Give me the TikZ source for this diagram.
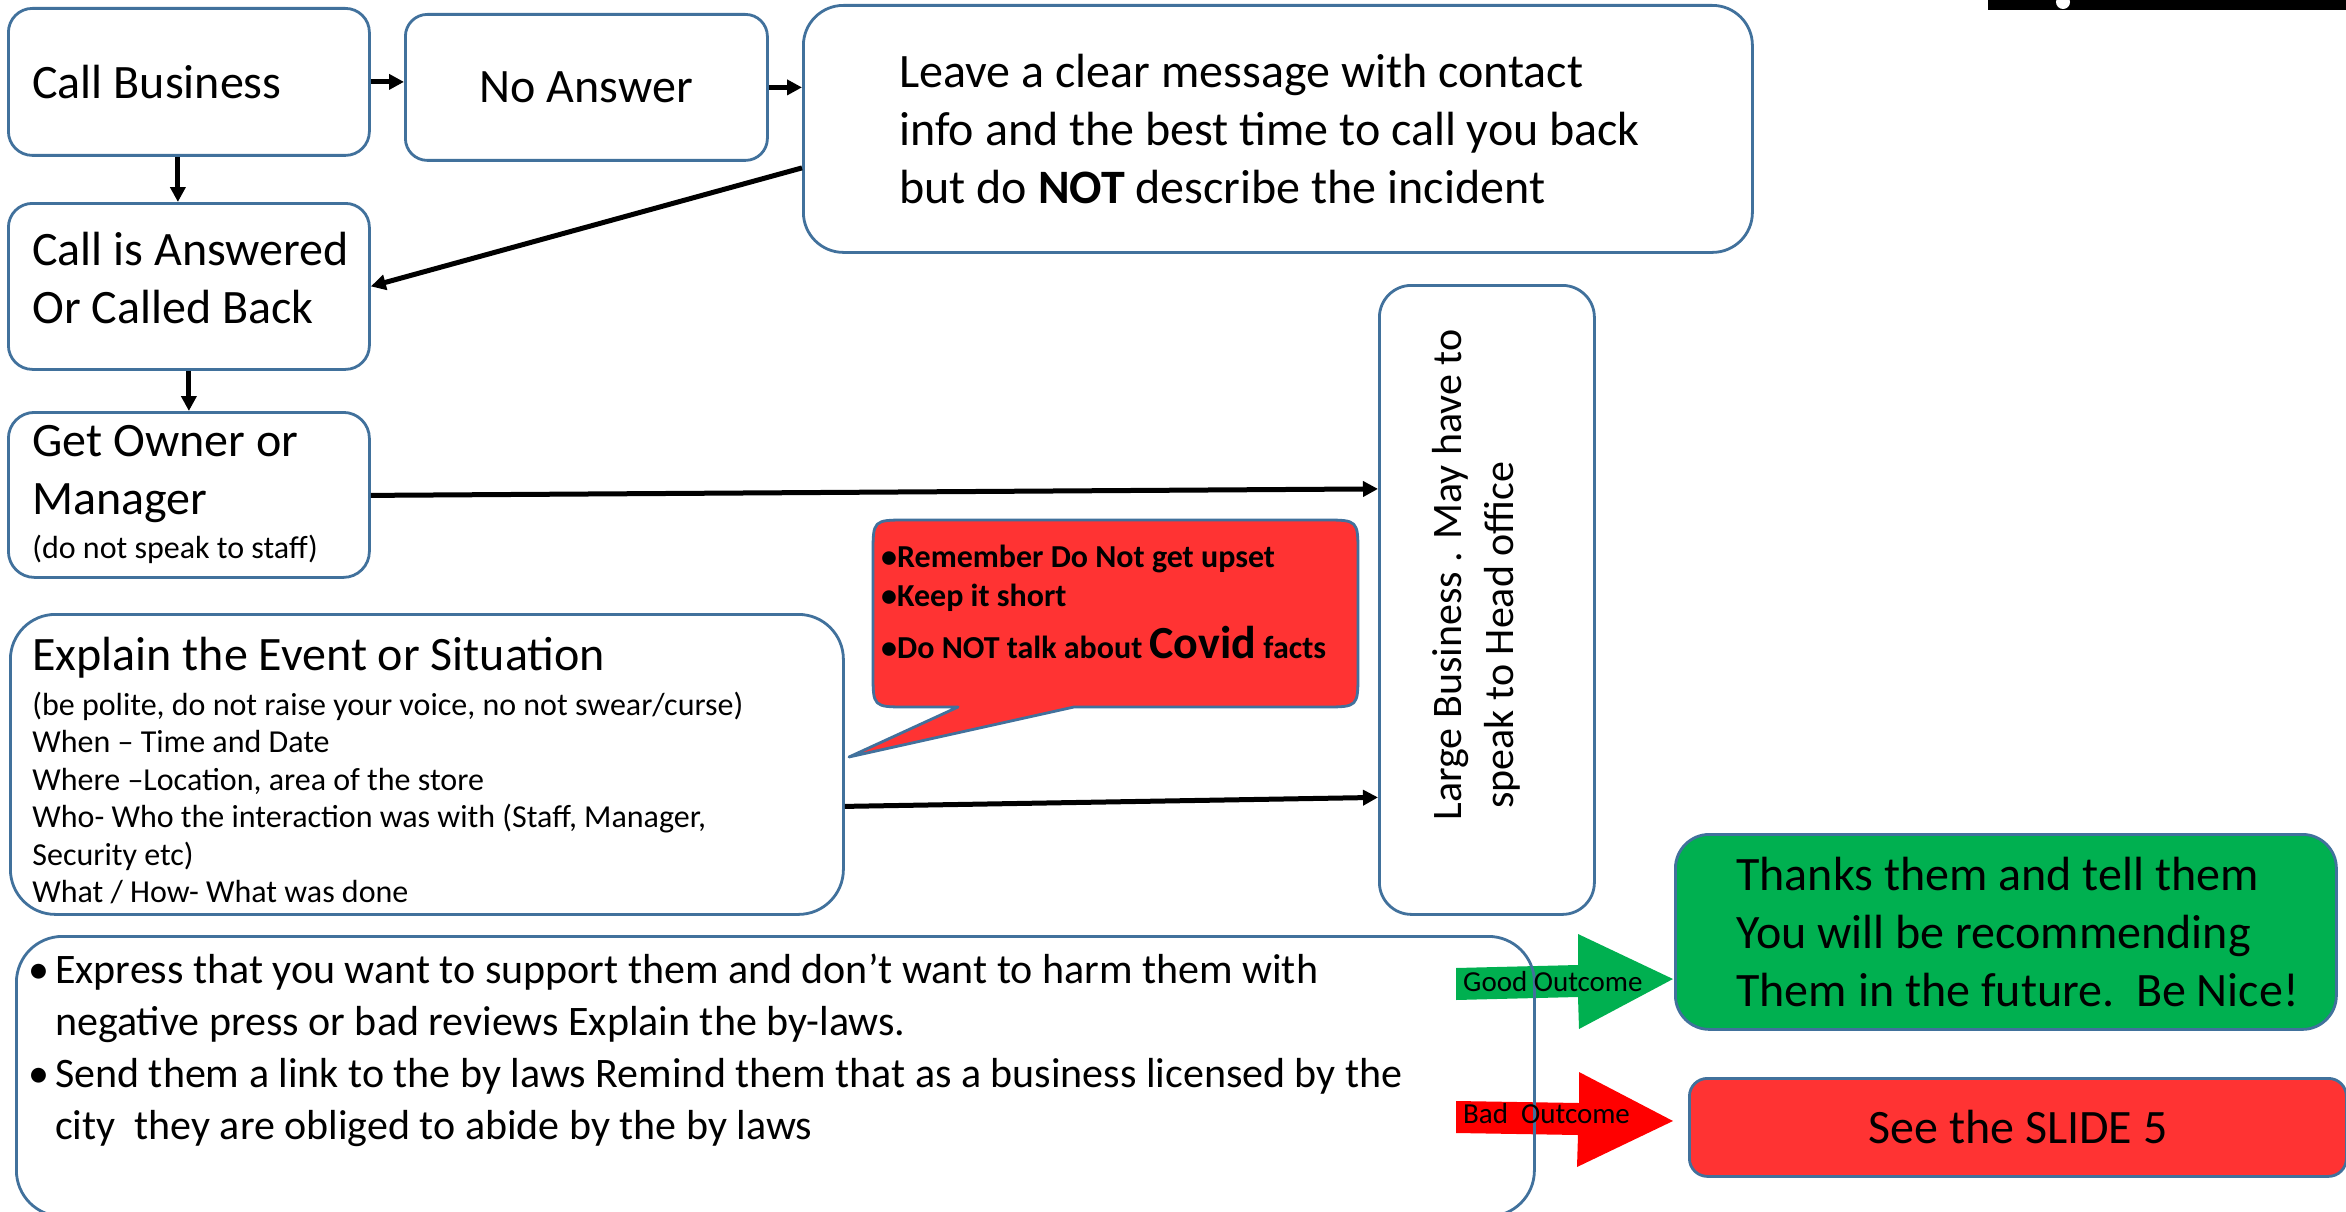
\documentclass[tikz,border=0pt]{standalone}
\usepackage{fontspec}
\usepackage{graphicx}
\setmainfont{Carlito}
\usetikzlibrary{arrows.meta,calc}

\definecolor{edgeblue}{RGB}{65,113,156}
\definecolor{alertred}{RGB}{255,51,51}
\definecolor{goodgreen}{RGB}{0,176,80}
\definecolor{badred}{RGB}{255,0,0}

\newcommand\sizeL{\fontsize{48}{58}\selectfont}
\newcommand\sizeM{\fontsize{42}{52}\selectfont}
\newcommand\sizeS{\fontsize{32}{37.5}\selectfont}
\newcommand\sizeT{\fontsize{32}{39}\selectfont}
\newcommand\sizeXS{\fontsize{29}{35}\selectfont}

\begin{document}
\begin{tikzpicture}[x=1pt,y=-1pt,
  box/.style={draw=edgeblue, line width=2.8pt, fill=white, anchor=north west, inner sep=0pt},
  flow/.style={line width=5pt, -{Triangle[length=15pt,width=15pt]}},
  lbl/.style={anchor=base west, inner sep=0pt, font=\sizeXS},
]
\useasboundingbox (0,0) rectangle (2346,1212);
\fill[white] (0,0) rectangle (2346,1212);
\begin{scope}
\clip (0,0) rectangle (2346,1212);

% header strip in the top right corner
\fill[black] (1988,0) rectangle (2346,10);
\fill[white] (2063,2) circle (7pt);

% outcome arrows
\fill[goodgreen] (1456,968) -- (1578,965) -- (1578,934) -- (1673,979) -- (1579,1029) -- (1578,997) -- (1456,1000) -- cycle;
\fill[badred] (1456,1101) -- (1579,1103) -- (1579,1072) -- (1673,1121) -- (1577,1167) -- (1578,1135) -- (1456,1133) -- cycle;

% flow boxes
\node[box, rounded corners=24pt, minimum width=361pt, minimum height=147pt,
      text width=313pt, align=flush left, font=\sizeL] (cb) at (7,7) {Call Business};
\node[box, rounded corners=22pt, minimum width=362pt, minimum height=146pt,
      align=flush center, font=\sizeL] (na) at (404,13) {No Answer};
\node[box, rounded corners=40pt, minimum width=949pt, minimum height=247pt,
      text width=757pt, align=flush left, font=\sizeL] (lv) at (802,4)
  {Leave a clear message with contact\\ info and the best time to call you back\\ but do \textbf{NOT} describe the incident};
\node[box, rounded corners=24pt, minimum width=361pt, minimum height=166pt,
      text width=313pt, align=flush left, font=\sizeL] (ca) at (7,202)
  {\mbox{Call is Answered}\\ Or Called Back\rule[-18pt]{0pt}{18pt}};
\node[box, rounded corners=26pt, minimum width=361pt, minimum height=165pt,
      text width=313pt, align=flush left, font=\sizeL] (go) at (7,411)
  {Get Owner or\\ Manager\\[-14pt] {\sizeS\mbox{(do not speak to staff)}}};
\node[box, rounded corners=45pt, minimum width=833pt, minimum height=300pt,
      text width=789pt, align=flush left, font=\sizeS] (ex) at (9,613)
  {{\sizeL\rule{0pt}{46pt}Explain the Event or Situation}\\[7.5pt]
   (be polite, do not raise your voice, no not swear/curse)\\
   When – Time and Date\\
   Where –Location, area of the store\\
   Who- Who the interaction was with (Staff, Manager,\\
   Security etc)\\
   What / How- What was done};
\node[box, rounded corners=32pt, minimum width=215pt, minimum height=629pt,
      font=\sizeM] (lg) at (1378,284)
  {\rotatebox{90}{\hspace{50pt}\raisebox{0pt}[\height][\dimexpr\depth+20pt\relax]{%
     \begin{tabular}{@{}l@{}}Large Business . May have to\\ \hspace{12pt}speak to Head office\end{tabular}}}};
\node[box, fill=goodgreen, rounded corners=34pt, minimum width=661pt, minimum height=195pt,
      text width=539pt, align=flush left, font=\sizeL] (gr) at (1674,833)
  {\mbox{Thanks them and tell them}\\ \mbox{You will be recommending}\\ \mbox{Them in the future.\ \ Be Nice!}};
\node[box, fill=alertred, rounded corners=18pt, minimum width=657pt, minimum height=98pt,
      font=\sizeL] (rd) at (1688,1077) {See the SLIDE 5};

% closing advice box and its bullets
\node[box, fill=none, rounded corners=46pt, minimum width=1518pt, minimum height=280pt] (bt) at (15,935) {};
\node[anchor=north west, inner sep=0pt, font=\sizeM] (bttext) at (28,947)
  {\begin{tabular}{@{}p{27pt}@{}l@{}}
   \textbullet & Express that you want to support them and don’t want to harm them with\\
   & negative press or bad reviews Explain the by-laws.\\
   \textbullet & Send them a link to the by laws Remind them that as a business licensed by the\\
   & city\ \ they are obliged to abide by the by laws
   \end{tabular}};

% speech bubble with reminders
\draw[draw=edgeblue, line width=2.8pt, fill=alertred, line join=round]
  (958,707) -- (849,757) -- (1074,707) -- (1324,707)
  .. controls (1358,707) .. (1358,673) -- (1358,554)
  .. controls (1358,520) .. (1324,520) -- (907,520)
  .. controls (873,520) .. (873,554) -- (873,673)
  .. controls (873,707) .. (907,707) -- cycle;
\node[anchor=north west, inner sep=0pt, align=flush left, font=\sizeT\bfseries] (tips) at (881,545)
  {\textbullet Remember Do Not get upset\\
   \textbullet Keep it short\\[13pt]
   \textbullet Do NOT talk about {\fontsize{46}{50}\selectfont Covid} facts};

% outcome labels
\node[lbl] (goodlbl) at (1463,991) {Good Outcome};
\node[lbl] (badlbl) at (1463,1123) {Bad\ \ Outcome};

% connectors
\draw[flow] (cb.east) -- (cb.east -| na.west);
\draw[flow] (na.east) -- (na.east -| lv.west);
\draw[flow] ([xshift=-11pt]cb.south) -- ([xshift=-11pt]cb.south |- ca.north);
\draw[flow] (ca.south) -- (go.north);
\draw[flow] ($(lv.west)+(0,39)$) -- (ca.east);
\draw[flow] ($(go.east)+(0,0.5)$) -- ($(go.east -| lg.west)+(0,-6)$);
\draw[flow] ($(ex.east)+(0,42)$) -- ($(ex.east -| lg.west)+(0,33)$);
\end{scope}
\end{tikzpicture}
\end{document}
